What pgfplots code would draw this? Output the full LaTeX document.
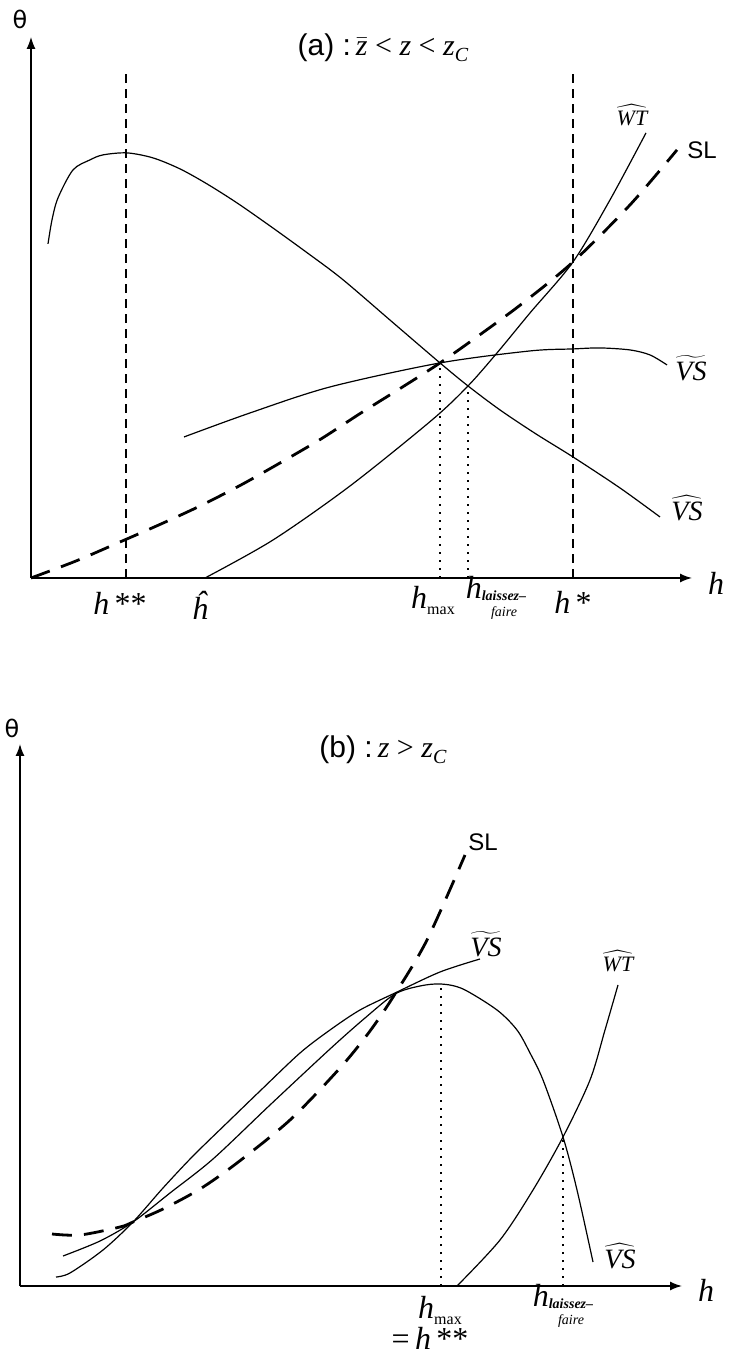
\documentclass[border=0pt]{standalone}
\usepackage{fontspec}
\setmainfont{Liberation Serif}
\setsansfont{Liberation Sans}
\newfontfamily\dejavu{DejaVu Sans}
\usepackage{pgfplots}
\pgfplotsset{compat=1.18}
\usetikzlibrary{arrows.meta}

% one unit of the data = 0.5pt on the page
\pgfplotsset{
  panel/.style={
    scale only axis, clip=false, anchor=south west,
    axis lines=left,
    axis line style={line width=0.75pt, -{Latex[length=6pt,width=4.5pt]}},
    xtick=\empty, ytick=\empty,
  },
  curve/.style={black, line width=0.6pt, smooth, tension=0.5},
  sl/.style={black, line width=1.4pt, smooth, tension=0.5, dash pattern=on 10pt off 6pt},
  guide/.style={black, line width=0.9pt, dash pattern=on 4.5pt off 3pt},
  dotline/.style={black, line width=1pt, dash pattern=on 0.8pt off 3.2pt},
}
\newcommand{\lab}{\fontsize{16}{18}\selectfont}
\newcommand{\hmax}{\textit{h}{\fontsize{8}{9}\selectfont\raisebox{-3pt}{max}}}
\newcommand{\sublf}{\raisebox{-8.8pt}{\fontsize{7}{7}\selectfont\shortstack{\bfseries\itshape laissez--\\\itshape faire}}}
\newcommand{\hatlab}[1]{$\widehat{\textit{#1}}$}
\newcommand{\tildelab}[1]{$\widetilde{\textit{#1}}$}
\newcommand{\zC}{\textit{z}{\fontsize{10}{11}\selectfont\raisebox{-3pt}{\textit{C}}}}

\begin{document}
\begin{tikzpicture}
\useasboundingbox (0,0) rectangle (364pt,679pt);

% ---------------- panel (a) ----------------
\begin{axis}[panel, at={(15.5pt,390pt)},
  width=330.5pt, height=270.5pt,
  xmin=0, xmax=661, ymin=0, ymax=541]
  % VS hat
  \addplot[curve] coordinates {(17,334) (21,358) (27,380) (42,408) (59,418) (72,423) (96,425) (122,420) (149,409) (176,394) (206,375) (239,352) (275,326) (311,299) (360,257) (409,215) (437,192) (469,168) (505,144) (542,121) (589,90) (629,61)};
  % VS tilde
  \addplot[curve] coordinates {(153,141) (219,165) (299,191) (409,215) (499,227) (542,229) (569,230) (599,228) (619,223) (636,213)};
  % WT hat
  \addplot[curve] coordinates {(174,0) (242,38) (319,92) (401,158) (437,192) (466,225) (499,265) (542,316) (579,378) (615,445)};
  % SL
  \addplot[sl] coordinates {(0,0) (45,17) (89,36) (130,54) (169,72) (210,93) (249,115) (290,139) (330,165) (370,190) (409,215) (450,244) (492,275) (542,316) (599,373) (646,428)};
  % guides
  \addplot[guide] coordinates {(95,0) (95,506)};
  \addplot[guide] coordinates {(542,0) (542,508)};
  \addplot[dotline] coordinates {(409,0) (409,215)};
  \addplot[dotline] coordinates {(437,0) (437,192)};
  % labels
  \node at (-11,558) {\dejavu\fontsize{12}{14}\selectfont θ};
  \node at (352,530) {{\sffamily\fontsize{15}{17}\selectfont (a) :}\ \fontsize{15}{17}\selectfont$\bar{\mbox{\textit{z}}}$ \textless{} \textit{z} \textless{} \zC};
  \node at (685,-5) {\lab\textit{h}};
  \node at (89,-25) {\lab\textit{h}\,**};
  \node at (169,-27) {\lab\textit{ĥ}};
  \node at (402,-22) {\lab\hmax};
  \node at (465,-20) {\lab\textit{h}\sublf};
  \node at (542,-24) {\lab\textit{h}\,*};
  \node at (601,463) {\fontsize{11}{12}\selectfont\hatlab{WT}};
  \node at (671,428) {\sffamily\fontsize{12}{14}\selectfont SL};
  \node at (660,210) {\fontsize{14}{16}\selectfont\tildelab{VS}};
  \node at (656,70) {\fontsize{14}{16}\selectfont\hatlab{VS}};
\end{axis}

% ---------------- panel (b) ----------------
\begin{axis}[panel, at={(10pt,36pt)},
  width=331pt, height=271pt,
  xmin=0, xmax=662, ymin=0, ymax=542]
  % VS tilde
  \addplot[curve] coordinates {(36,9) (50,13) (83,36) (113,64) (143,98) (173,130) (210,166) (240,195) (280,233) (310,256) (340,276) (375,293) (420,314) (460,327)};
  % VS hat
  \addplot[curve] coordinates {(43,30) (80,45) (113,64) (150,93) (193,127) (250,181) (310,237) (345,268) (375,292) (400,300) (421,302) (443,297) (477,276) (497,256) (510,233) (523,206) (543,149) (557,96) (573,24)};
  % WT hat
  \addplot[curve] coordinates {(437,0) (480,46) (513,96) (543,149) (570,206) (585,256) (598,301)};
  % SL
  \addplot[sl] coordinates {(32,52) (60,51) (100,59) (113,64) (143,77) (180,97) (217,123) (270,166) (320,218) (350,255) (375,292) (407,346) (445,431)};
  % guides
  \addplot[dotline] coordinates {(421,0) (421,302)};
  \addplot[dotline] coordinates {(543,0) (543,149)};
  % labels
  \node at (-8,558) {\dejavu\fontsize{12}{14}\selectfont θ};
  \node at (363,536) {{\sffamily\fontsize{15}{17}\selectfont (b) :}\ \fontsize{15}{17}\selectfont\textit{z} \textgreater{} \zC};
  \node at (686,-4) {\lab\textit{h}};
  \node at (463,444) {\sffamily\fontsize{12}{14}\selectfont SL};
  \node at (466,342) {\fontsize{14}{16}\selectfont\tildelab{VS}};
  \node at (598,325) {\fontsize{11}{12}\selectfont\hatlab{WT}};
  \node at (600,30) {\fontsize{14}{16}\selectfont\hatlab{VS}};
  \node at (420,-24) {\lab\hmax};
  \node at (410,-52) {\lab=\,\textit{h}\,**};
  \node at (543,-20) {\lab\textit{h}\sublf};
\end{axis}
\end{tikzpicture}
\end{document}
